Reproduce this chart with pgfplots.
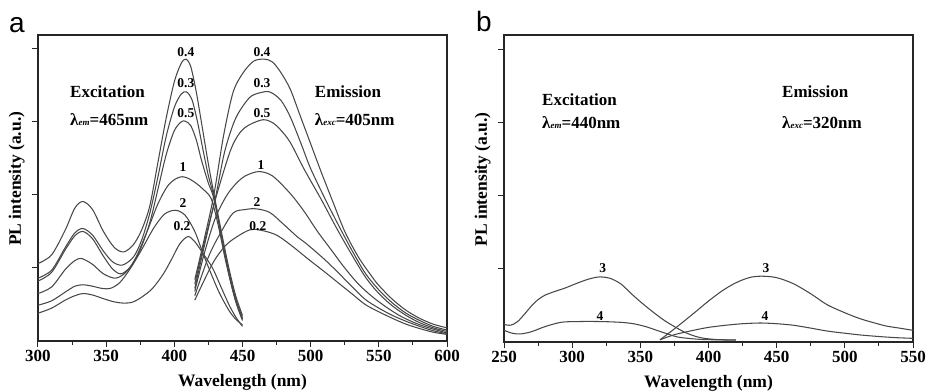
\documentclass[border=0pt]{standalone}
\usepackage{fontspec}
\setmainfont{Liberation Serif}
\newfontfamily\sansf{Liberation Sans}
\usepackage{pgfplots}
\pgfplotsset{compat=1.18}
\tikzset{
 lab/.style={font=\fontsize{13.5}{13.5}\selectfont\bfseries, inner sep=0pt},
 big/.style={font=\fontsize{17}{17}\selectfont\bfseries, inner sep=0pt, anchor=west},
}
\pgfplotsset{
 panel/.style={
  scale only axis, width=409pt, anchor=south west,
  ymin=0, ytick={1,2,3,4}, yticklabels={},
  tick align=outside, xtick pos=left, ytick pos=left,
  major tick length=6pt, minor tick length=4pt,
  minor x tick num=1,
  axis line style={line width=1.2pt, black!85},
  tick style={line width=1pt, black!85},
  /pgf/number format/assume math mode=true,
  ticklabel style={font=\fontsize{17}{17}\selectfont\bfseries},
  label style={font=\fontsize{17.5}{17.5}\selectfont\bfseries},
  xlabel={Wavelength (nm)}, ylabel={PL intensity (a.u.)},
  xlabel style={at={(axis description cs:0.5,-0.134)}, anchor=center},
  ylabel style={at={(axis description cs:-0.052,0.53)}, anchor=center},
 },
 crv/.style={smooth, line width=1.05pt, black!72, no markers},
}
\newcommand{\sub}[1]{{\fontsize{9}{9}\selectfont\bfseries\itshape #1}}
\begin{document}
\begin{tikzpicture}
\useasboundingbox (0pt,0pt) rectangle (926pt,391pt);
% ---------------- panel a ----------------
\begin{axis}[panel, at={(38pt,50pt)}, height=306pt, xmin=300, xmax=600, ymax=4.19,
  xtick={300,350,...,600}]
% excitation
\addplot[crv] table {
300 1.06
310 1.18
320 1.52
327 1.82
333 1.91
340 1.80
348 1.50
356 1.28
363 1.22
370 1.32
376 1.52
382 1.85
388 2.45
394 3.05
400 3.55
405 3.80
408.5 3.86
412 3.76
416 3.42
420 2.98
425 2.42
429 2.02
435 1.45
440 1.00
445 0.62
450 0.35
};
\addplot[crv] table {
300 0.86
310 0.97
320 1.28
327 1.48
333 1.54
340 1.45
348 1.23
355 1.08
362 1.04
370 1.15
376 1.38
382 1.75
388 2.25
394 2.80
400 3.20
405 3.38
409 3.41
413 3.30
417 3.00
421 2.62
425 2.26
429 1.98
435 1.40
440 0.95
445 0.58
450 0.30
};
\addplot[crv] table {
300 0.82
310 0.94
320 1.25
327 1.44
333 1.50
340 1.40
348 1.16
355 0.98
361 0.92
368 1.02
375 1.25
382 1.62
388 2.08
394 2.55
400 2.88
405 3.00
408 3.01
412 2.95
416 2.76
420 2.47
425 2.16
429 1.95
435 1.38
440 0.92
445 0.55
450 0.32
};
\addplot[crv] table {
300 0.65
310 0.74
320 0.98
327 1.10
332 1.13
340 1.05
348 0.92
357 0.86
365 0.95
372 1.15
380 1.50
388 1.88
395 2.12
401 2.22
406 2.25
411 2.22
416 2.16
421 2.08
427 1.95
432 1.60
437 1.15
442 0.75
446 0.48
450 0.28
};
\addplot[crv] table {
300 0.49
310 0.55
320 0.67
327 0.75
333 0.77
340 0.75
347 0.72
353 0.72
360 0.80
368 1.00
376 1.25
385 1.55
393 1.74
401 1.79
408 1.72
415 1.50
421 1.20
427 0.92
433 0.66
440 0.42
445 0.30
450 0.22
};
\addplot[crv] table {
300 0.38
310 0.45
320 0.56
327 0.62
333 0.65
340 0.63
348 0.58
355 0.54
362 0.52
369 0.53
376 0.60
384 0.72
392 0.92
398 1.12
404 1.33
410 1.43
415 1.36
421 1.20
428 1.00
434 0.75
440 0.50
445 0.33
450 0.20
};
% emission
\addplot[crv] table {
415 0.84
422 1.40
429 2.00
436 2.80
443 3.40
450 3.66
458 3.83
466 3.86
472 3.82
478 3.68
485 3.45
492 3.10
500 2.70
508 2.30
516 1.92
525 1.50
535 1.15
545 0.88
550 0.76
560 0.57
570 0.42
580 0.31
590 0.23
600 0.18
};
\addplot[crv] table {
415 0.78
422 1.35
430 1.95
437 2.60
445 3.05
455 3.33
463 3.40
470 3.41
478 3.30
485 3.07
493 2.70
500 2.36
511 1.93
520 1.60
530 1.25
540 0.93
550 0.70
560 0.52
570 0.38
580 0.28
590 0.20
600 0.15
};
\addplot[crv] table {
415 0.72
422 1.30
430 1.93
441 2.60
448 2.85
455 2.96
465 3.03
472 2.99
478 2.89
485 2.72
495 2.36
508 1.93
518 1.58
528 1.25
540 0.88
550 0.65
560 0.48
570 0.35
580 0.25
590 0.18
600 0.13
};
\addplot[crv] table {
415 0.68
422 1.20
430 1.68
438 1.98
445 2.15
452 2.26
462 2.32
472 2.26
485 2.02
495 1.78
505 1.50
515 1.25
525 1.00
535 0.78
545 0.61
555 0.47
565 0.35
575 0.26
585 0.19
600 0.11
};
\addplot[crv] table {
415 0.62
425 1.15
433 1.45
443 1.75
452 1.80
460 1.81
470 1.76
480 1.60
490 1.43
497 1.33
510 1.12
520 0.94
530 0.75
540 0.57
550 0.45
560 0.35
570 0.27
580 0.20
590 0.14
600 0.10
};
\addplot[crv] table {
415 0.56
425 0.95
431 1.15
440 1.35
455 1.52
465 1.51
475 1.45
485 1.32
499 1.11
510 0.95
520 0.80
530 0.65
540 0.50
550 0.40
560 0.31
570 0.23
580 0.17
590 0.12
600 0.09
};
% labels
\node[lab] at (axis cs:408.5,3.96) {0.4};
\node[lab] at (axis cs:408.5,3.53) {0.3};
\node[lab] at (axis cs:408.5,3.12) {0.5};
\node[lab] at (axis cs:406.3,2.38) {1};
\node[lab] at (axis cs:406.3,1.89) {2};
\node[lab] at (axis cs:405.6,1.58) {0.2};
\node[lab] at (axis cs:464.3,3.96) {0.4};
\node[lab] at (axis cs:464.3,3.53) {0.3};
\node[lab] at (axis cs:464.3,3.12) {0.5};
\node[lab] at (axis cs:463.5,2.41) {1};
\node[lab] at (axis cs:460.6,1.90) {2};
\node[lab] at (axis cs:461.3,1.58) {0.2};
\node[big] at (axis cs:323.5,3.41) {Excitation};
\node[big] at (axis cs:323.5,3.03) {λ\sub{em}=465nm};
\node[big] at (axis cs:503,3.41) {Emission};
\node[big] at (axis cs:503,3.03) {λ\sub{exc}=405nm};
\end{axis}
% ---------------- panel b ----------------
\begin{axis}[panel, at={(504pt,49pt)}, height=307pt, xmin=250, xmax=550, ymax=4.2,
  xtick={250,300,...,550}]
\addplot[crv] table {
250 0.24
255 0.23
260 0.28
265 0.38
270 0.49
275 0.58
280 0.64
287 0.69
295 0.74
303 0.80
312 0.86
320 0.89
328 0.87
336 0.79
344 0.65
352 0.52
360 0.40
368 0.29
376 0.20
383 0.13
390 0.08
397 0.05
405 0.035
412 0.03
420 0.03
};
\addplot[crv] table {
250 0.16
256 0.12
262 0.11
270 0.14
280 0.21
292 0.27
305 0.28
320 0.28
335 0.27
345 0.25
354 0.21
362 0.16
370 0.11
377 0.07
385 0.05
395 0.035
405 0.03
420 0.025
};
\addplot[crv] table {
364.4 0.03
375 0.18
389 0.39
400 0.56
410 0.70
418 0.79
425 0.85
432 0.89
440 0.90
450 0.88
462 0.80
475 0.66
487 0.51
500 0.40
511 0.32
520 0.27
530 0.22
540 0.19
550 0.16
};
\addplot[crv] table {
364.4 0.03
375 0.10
389 0.16
400 0.20
413 0.23
425 0.25
438 0.26
450 0.25
462 0.23
475 0.19
487 0.15
500 0.12
512 0.095
525 0.075
537 0.06
550 0.05
};
\node[lab] at (axis cs:322.4,1.01) {3};
\node[lab] at (axis cs:320.4,0.36) {4};
\node[lab] at (axis cs:442.2,1.01) {3};
\node[lab] at (axis cs:441.4,0.36) {4};
\node[big] at (axis cs:277.9,3.32) {Excitation};
\node[big] at (axis cs:277.9,3.00) {λ\sub{em}=440nm};
\node[big] at (axis cs:453.9,3.42) {Emission};
\node[big] at (axis cs:453.9,3.00) {λ\sub{exc}=320nm};
\end{axis}
\node[anchor=base west, inner sep=0pt, font=\sansf\fontsize{28}{28}\selectfont] at (9pt,358pt) {a};
\node[anchor=base west, inner sep=0pt, font=\sansf\fontsize{28}{28}\selectfont] at (476pt,359pt) {b};
\end{tikzpicture}
\end{document}
